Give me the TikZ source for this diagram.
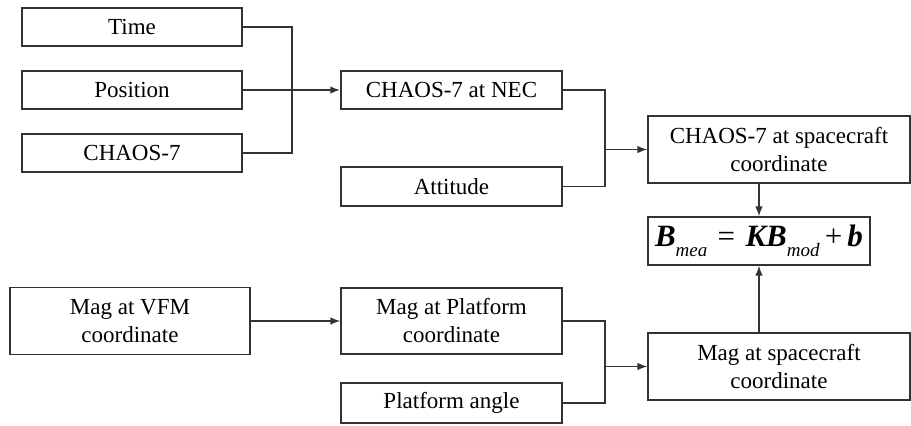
\documentclass[tikz,border=0pt]{standalone}
\usepackage{fontspec}
\setmainfont{Liberation Serif}
\usetikzlibrary{arrows.meta,calc}
\tikzstyle{box}=[rectangle, draw=black!80, line width=0.7pt, fill=white, align=center, inner sep=0pt, anchor=center, font=\fontsize{11.5}{14}\selectfont]
\tikzstyle{link}=[draw=black!80, line width=0.7pt]
\tikzstyle{arr}=[link, -{Latex[length=5pt,width=3.8pt]}]
\newcommand{\bvec}[1]{\textbf{\textit{#1}}}
\newcommand{\lowsub}[1]{\raisebox{-5pt}{\fontsize{9.5}{10}\selectfont\itshape #1}}

\begin{document}
\begin{tikzpicture}[x=0.5pt, y=-0.5pt]
	\useasboundingbox (0,0) rectangle (911,425);

	% inputs of the model
	\node[box, minimum width=110pt, minimum height=19pt](time) at (132,27){Time};
	\node[box, minimum width=110pt, minimum height=19pt](position) at (132,90){Position};
	\node[box, minimum width=110pt, minimum height=19pt](chaos) at (132,153){CHAOS-7};
	\node[box, minimum width=110.5pt, minimum height=19pt](nec) at (451.5,90){CHAOS-7 at NEC};
	\node[box, minimum width=110.5pt, minimum height=19.5pt](attitude) at (451.5,186.5){Attitude};
	\node[box, minimum width=131pt, minimum height=33.5pt](scchaos) at (779,149.5){CHAOS-7 at spacecraft\\coordinate};

	% equation
	\node[box, minimum width=111pt, minimum height=24pt, font=\fontsize{15.5}{18}\selectfont](eq) at (759,241)
		{\bvec{B}\lowsub{mea}\,\,=\,\,\bvec{KB}\lowsub{mod}\,+\,\bvec{b}};

	% magnetometer chain
	\node[box, minimum width=120pt, minimum height=33.5pt](vfm) at (130,321){Mag at VFM\\coordinate};
	\node[box, minimum width=110.5pt, minimum height=33pt](platform) at (451.5,321){Mag at Platform\\coordinate};
	\node[box, minimum width=110.5pt, minimum height=20pt](angle) at (451.5,403){Platform angle};
	\node[box, minimum width=131pt, minimum height=33.5pt](scmag) at (779,366.5){Mag at spacecraft\\coordinate};

	\coordinate (j1) at (292,90);
	\coordinate (j2) at (605,149.5);
	\coordinate (j3) at (605,366.5);

	\draw[link] (time.east) -| (j1);
	\draw[link] (chaos.east) -| (j1);
	\draw[link] (position.east) -- (j1);
	\draw[arr, line width=1.2pt] (j1) -- (nec.west);

	\draw[link] (nec.east) -| (j2);
	\draw[link] (attitude.east) -| (j2);
	\draw[arr] (j2) -- (scchaos.west);
	\draw[arr] (scchaos.south -| eq.north) -- (eq.north);

	\draw[arr] (vfm.east) -- (platform.west);
	\draw[link] (platform.east) -| (j3);
	\draw[link] (angle.east) -| (j3);
	\draw[arr] (j3) -- (scmag.west);
	\draw[arr] (scmag.north -| eq.south) -- (eq.south);

\end{tikzpicture}
\end{document}
